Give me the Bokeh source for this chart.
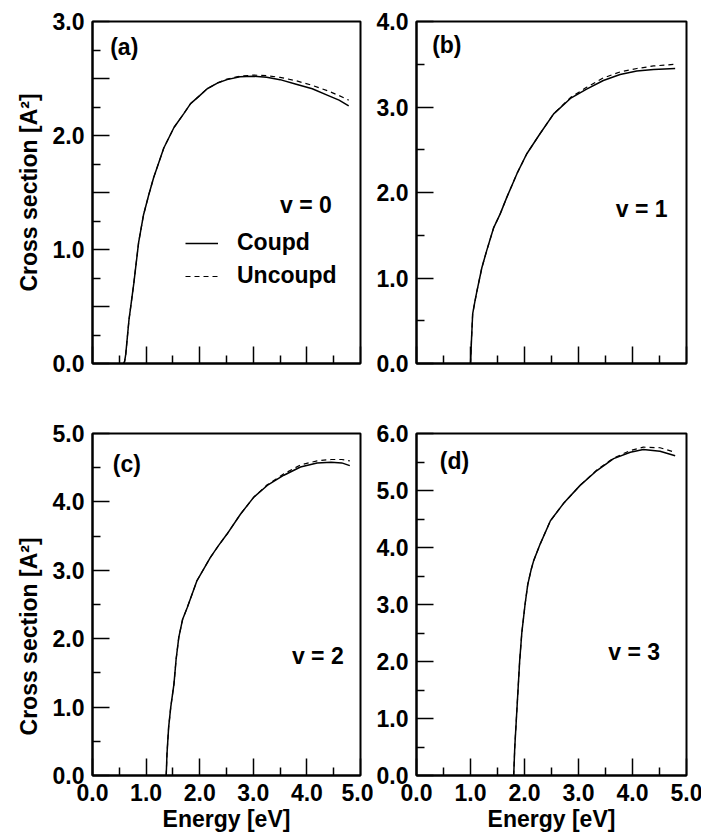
from bokeh.plotting import figure
from bokeh.models import Range1d, FixedTicker, NumeralTickFormatter, Label, Legend, LegendItem
from bokeh.layouts import column, row
from bokeh.embed import file_html
from bokeh.resources import INLINE

# ---------------- data ----------------
# panel (a), v = 0
ea_c = [0.58, 0.60, 0.62, 0.68, 0.77, 0.86, 0.95, 1.05, 1.14, 1.33, 1.52, 1.70, 1.83, 2.00, 2.14, 2.33,
        2.51, 2.75, 3.00, 3.25, 3.50, 3.80, 4.10, 4.40, 4.60, 4.78]
sa_c = [0.00, 0.02, 0.08, 0.38, 0.70, 1.06, 1.30, 1.48, 1.63, 1.89, 2.07, 2.19, 2.28, 2.35, 2.41, 2.46,
        2.49, 2.515, 2.52, 2.51, 2.49, 2.45, 2.41, 2.35, 2.31, 2.26]
ea_u = ea_c
sa_u = [0.00, 0.02, 0.08, 0.38, 0.70, 1.06, 1.30, 1.48, 1.63, 1.89, 2.07, 2.19, 2.28, 2.35, 2.41, 2.46,
        2.495, 2.52, 2.53, 2.525, 2.51, 2.48, 2.44, 2.39, 2.35, 2.31]

# panel (b), v = 1
eb_c = [1.00, 1.02, 1.04, 1.08, 1.12, 1.21, 1.30, 1.43, 1.55, 1.67, 1.86, 2.04, 2.29, 2.54, 2.85,
        3.15, 3.46, 3.77, 4.08, 4.39, 4.79]
sb_c = [0.00, 0.30, 0.58, 0.72, 0.85, 1.12, 1.32, 1.59, 1.75, 1.94, 2.22, 2.45, 2.69, 2.92, 3.10,
        3.21, 3.31, 3.38, 3.42, 3.44, 3.45]
eb_u = eb_c
sb_u = [0.00, 0.30, 0.58, 0.72, 0.85, 1.12, 1.32, 1.59, 1.75, 1.94, 2.22, 2.45, 2.69, 2.92, 3.11,
        3.23, 3.34, 3.41, 3.45, 3.48, 3.50]

# panel (c), v = 2
ec_c = [1.375, 1.39, 1.42, 1.46, 1.52, 1.56, 1.61, 1.68, 1.77, 1.95, 2.20, 2.35, 2.51, 2.76, 3.01,
        3.26, 3.57, 3.88, 4.19, 4.45, 4.65, 4.80]
sc_c = [0.00, 0.32, 0.70, 1.00, 1.34, 1.70, 2.02, 2.28, 2.46, 2.85, 3.19, 3.36, 3.53, 3.82, 4.07,
        4.24, 4.39, 4.51, 4.57, 4.58, 4.57, 4.53]
ec_u = ec_c
sc_u = [0.00, 0.32, 0.70, 1.00, 1.34, 1.70, 2.02, 2.28, 2.46, 2.85, 3.19, 3.36, 3.53, 3.82, 4.07,
        4.25, 4.41, 4.54, 4.60, 4.62, 4.62, 4.60]

# panel (d), v = 3
ed_c = [1.80, 1.82, 1.85, 1.88, 1.91, 1.95, 2.01, 2.06, 2.12, 2.17, 2.29, 2.48, 2.72, 3.03, 3.34,
        3.65, 3.96, 4.20, 4.51, 4.79]
sd_c = [0.00, 0.50, 1.00, 1.50, 2.00, 2.50, 3.00, 3.35, 3.60, 3.77, 4.06, 4.47, 4.77, 5.09, 5.35,
        5.56, 5.67, 5.72, 5.69, 5.61]
ed_u = ed_c
sd_u = [0.00, 0.50, 1.00, 1.50, 2.00, 2.50, 3.00, 3.35, 3.60, 3.77, 4.06, 4.47, 4.77, 5.09, 5.36,
        5.57, 5.70, 5.76, 5.75, 5.67]

x_ticks = [0.0, 1.0, 2.0, 3.0, 4.0, 5.0]
x_minor = [0.5, 1.5, 2.5, 3.5, 4.5]
panel_tags = ["(a)", "(b)", "(c)", "(d)"]
v_tags = ["v = 0", "v = 1", "v = 2", "v = 3"]
legend_names = ["Coupd", "Uncoupd"]
x_title = "Energy [eV]"
y_title = "Cross section [A\u00b2]"

FONT = "Liberation Sans"
FS = "23px"


def style_axis(ax):
    ax.axis_line_color = "black"
    ax.axis_line_width = 2
    ax.major_tick_in = 17
    ax.major_tick_out = 0
    ax.minor_tick_in = 8
    ax.minor_tick_out = 0
    ax.major_tick_line_color = "black"
    ax.minor_tick_line_color = "black"
    ax.major_tick_line_width = 1.5
    ax.minor_tick_line_width = 1.5
    ax.major_label_text_font = FONT
    ax.major_label_text_font_size = FS
    ax.major_label_text_font_style = "bold"
    ax.major_label_text_color = "black"
    ax.major_label_standoff = 8
    ax.axis_label_text_font = FONT
    ax.axis_label_text_font_size = FS
    ax.axis_label_text_font_style = "bold"
    ax.axis_label_text_color = "black"


def make_panel(ex_c, sy_c, ex_u, sy_u, ymax, yticks, yminor, blank_y, fw,
               borders, bottom_labels, y_label, tag, tag_xy, vtag, vtag_xy):
    left, right, top, bottom = borders
    p = figure(frame_width=fw, frame_height=342, x_range=Range1d(0, 5), y_range=Range1d(0, ymax),
               output_backend="svg", toolbar_location=None, title=None,
               min_border_left=left, min_border_right=right, min_border_top=top,
               min_border_bottom=bottom, background_fill_color="white",
               border_fill_color="white")
    p.xgrid.visible = False
    p.ygrid.visible = False
    p.outline_line_color = "black"
    p.outline_line_width = 2
    p.outline_line_alpha = 1

    xa = p.xaxis[0]
    ya = p.yaxis[0]
    style_axis(xa)
    style_axis(ya)
    xa.ticker = FixedTicker(ticks=x_ticks, minor_ticks=x_minor)
    xa.formatter = NumeralTickFormatter(format="0.0")
    if bottom_labels:
        xa.axis_label = x_title
        xa.axis_label_standoff = 2
    else:
        xa.major_label_overrides = {t: "" for t in x_ticks}
    ya.ticker = FixedTicker(ticks=yticks, minor_ticks=yminor)
    ya.formatter = NumeralTickFormatter(format="0.0")
    if blank_y:
        ya.major_label_overrides = {t: "" for t in blank_y}
    if y_label:
        ya.axis_label = y_label
        ya.axis_label_standoff = 8

    r_c = p.line(ex_c, sy_c, line_color="black", line_width=1.5)
    r_u = p.line(ex_u, sy_u, line_color="black", line_width=1.2, line_dash="5 4")

    p.add_layout(Label(x=tag_xy[0], y=tag_xy[1], text=tag, text_font=FONT, text_font_size=FS,
                       text_font_style="bold", text_color="black", text_baseline="alphabetic"))
    p.add_layout(Label(x=vtag_xy[0], y=vtag_xy[1], text=vtag, text_font=FONT, text_font_size=FS,
                       text_font_style="bold", text_color="black", text_baseline="alphabetic"))
    return p, r_c, r_u


pa, ra_c, ra_u = make_panel(ea_c, sa_c, ea_u, sa_u, 3.0,
                            [0.0, 0.5, 1.0, 1.5, 2.0, 2.5, 3.0],
                            [0.25, 0.75, 1.25, 1.75, 2.25, 2.75],
                            [0.5, 1.5, 2.5], 268, (92, 13, 21, 37), False, y_title,
                            panel_tags[0], (0.33, 2.78), v_tags[0], (3.50, 1.39))
legend = Legend(items=[LegendItem(label=legend_names[0], renderers=[ra_c]),
                       LegendItem(label=legend_names[1], renderers=[ra_u])],
                location=(93, 74), padding=0, margin=0, spacing=6,
                label_height=24, glyph_height=24, glyph_width=33, label_standoff=19,
                label_text_font=FONT, label_text_font_size=FS, label_text_font_style="bold",
                label_text_color="black", border_line_alpha=0, background_fill_alpha=0)
pa.add_layout(legend)

pb, _, _ = make_panel(eb_c, sb_c, eb_u, sb_u, 4.0,
                      [0.0, 1.0, 2.0, 3.0, 4.0],
                      [0.5, 1.5, 2.5, 3.5],
                      None, 270, (40, 18, 21, 37), False, None,
                      panel_tags[1], (0.29, 3.73), v_tags[1], (3.69, 1.81))

pc, _, _ = make_panel(ec_c, sc_c, ec_u, sc_u, 5.0,
                      [0.0, 1.0, 2.0, 3.0, 4.0, 5.0],
                      [0.5, 1.5, 2.5, 3.5, 4.5],
                      None, 268, (92, 13, 33, 50), True, y_title + "\u00a0" * 10,
                      panel_tags[2], (0.38, 4.56), v_tags[2], (3.72, 1.75))

pd_, _, _ = make_panel(ed_c, sd_c, ed_u, sd_u, 6.0,
                       [0.0, 1.0, 2.0, 3.0, 4.0, 5.0, 6.0],
                       [0.5, 1.5, 2.5, 3.5, 4.5, 5.5],
                       None, 270, (40, 18, 33, 50), True, None,
                       panel_tags[3], (0.43, 5.51), v_tags[3], (3.55, 2.16))

layout = column(row(pa, pb), row(pc, pd_))
open("out.html", "w").write(file_html(layout, INLINE))
